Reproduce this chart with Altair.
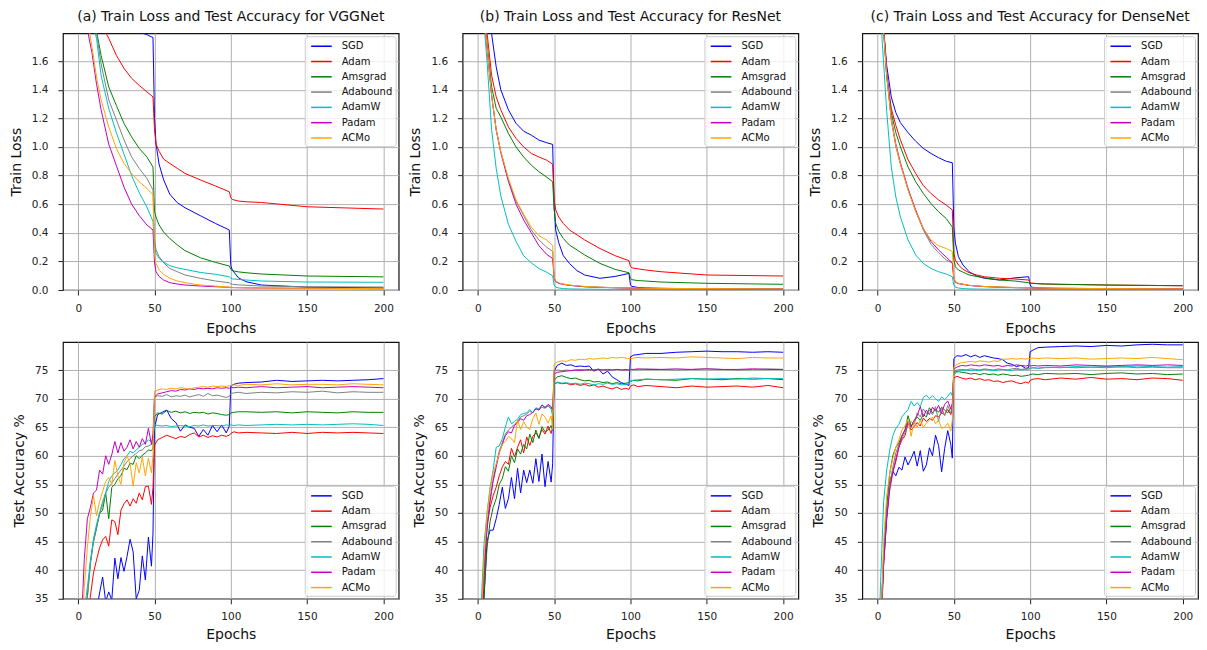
import altair as alt
import pandas as pd

OPTIMIZERS = ["SGD", "Adam", "Amsgrad", "Adabound", "AdamW", "Padam", "ACMo"]
COLORS = ["#0000ff", "#ff0000", "#008000", "#808080", "#00bfbf", "#bf00bf", "#ffa500"]

PANEL_TITLES = [
    "(a) Train Loss and Test Accuracy for VGGNet",
    "(b) Train Loss and Test Accuracy for ResNet",
    "(c) Train Loss and Test Accuracy for DenseNet",
]
X_TICKS = [0, 50, 100, 150, 200]
LOSS_TICKS = [0.0, 0.2, 0.4, 0.6, 0.8, 1.0, 1.2, 1.4, 1.6]
ACC_TICKS = [35, 40, 45, 50, 55, 60, 65, 70, 75]

EP_LOSS = [0, 3, 6, 9, 12, 15, 20, 25, 30, 35, 40, 45, 49, 50, 51, 53, 56, 60, 65, 70,
           80, 90, 99, 100, 101, 105, 110, 120, 150, 200]
EP_ACC = [0, 2, 4, 6, 8, 10, 12, 14, 16, 18, 20, 22, 24, 26, 28, 30, 32, 34, 36, 38,
          40, 42, 44, 46, 48, 49,
          50, 52, 55, 58, 61, 64, 67, 70, 73, 76, 79, 82, 85, 88, 91, 94, 97, 99,
          100, 102, 105, 110, 120, 130, 140, 150, 160, 170, 180, 190, 200]

# ---------------- VGGNet train loss ----------------
VGG_LOSS_SGD = [2.30, 2.22, 2.14, 2.07, 2.01, 1.97, 1.92, 1.88, 1.855, 1.83, 1.805, 1.785, 1.765,
                1.20, 1.02, 0.88, 0.77, 0.67, 0.61, 0.575, 0.52, 0.465, 0.42,
                0.17, 0.14, 0.085, 0.058, 0.035, 0.02, 0.015]
VGG_LOSS_ADAM = [2.60, 2.40, 2.20, 2.05, 1.95, 1.86, 1.76, 1.64, 1.55, 1.48, 1.43, 1.385, 1.35,
                 1.12, 1.02, 0.97, 0.915, 0.885, 0.85, 0.815, 0.77, 0.727, 0.687,
                 0.645, 0.633, 0.622, 0.617, 0.612, 0.582, 0.566]
VGG_LOSS_AMSGRAD = [2.50, 2.30, 2.10, 1.93, 1.81, 1.64, 1.42, 1.29, 1.165, 1.07, 0.99, 0.93, 0.86,
                    0.55, 0.51, 0.455, 0.405, 0.36, 0.315, 0.275, 0.226, 0.193, 0.168,
                    0.145, 0.135, 0.127, 0.121, 0.112, 0.098, 0.092]
VGG_LOSS_ADABOUND = [2.50, 2.30, 2.10, 1.92, 1.80, 1.58, 1.33, 1.19, 1.05, 0.93, 0.85, 0.78, 0.70,
                     0.35, 0.28, 0.233, 0.19, 0.151, 0.128, 0.105, 0.082, 0.063, 0.051,
                     0.043, 0.040, 0.036, 0.033, 0.028, 0.023, 0.021]
VGG_LOSS_ADAMW = [2.50, 2.25, 2.05, 1.88, 1.76, 1.50, 1.27, 1.10, 0.95, 0.80, 0.68, 0.58, 0.48,
                  0.30, 0.256, 0.221, 0.195, 0.17, 0.155, 0.144, 0.123, 0.11, 0.093,
                  0.083, 0.078, 0.074, 0.07, 0.063, 0.056, 0.054]
VGG_LOSS_PADAM = [2.40, 2.10, 1.82, 1.66, 1.44, 1.26, 1.02, 0.87, 0.72, 0.60, 0.52, 0.455, 0.42,
                  0.19, 0.128, 0.095, 0.07, 0.051, 0.042, 0.035, 0.028, 0.023, 0.019,
                  0.018, 0.017, 0.016, 0.015, 0.014, 0.012, 0.009]
VGG_LOSS_ACMO = [2.40, 2.15, 1.90, 1.70, 1.49, 1.33, 1.14, 0.99, 0.885, 0.815, 0.757, 0.71, 0.665,
                 0.26, 0.186, 0.14, 0.11, 0.082, 0.063, 0.051, 0.035, 0.028, 0.02,
                 0.019, 0.018, 0.017, 0.016, 0.014, 0.012, 0.01]

# ---------------- ResNet train loss ----------------
RES_LOSS_SGD = [2.30, 2.15, 1.95, 1.79, 1.56, 1.40, 1.26, 1.165, 1.11, 1.083, 1.048, 1.03, 1.018,
                0.58, 0.42, 0.33, 0.24, 0.186, 0.135, 0.105, 0.082, 0.095, 0.116,
                0.035, 0.025, 0.018, 0.014, 0.012, 0.009, 0.007]
RES_LOSS_ADAM = [2.40, 2.15, 1.80, 1.50, 1.35, 1.26, 1.14, 1.06, 1.0, 0.955, 0.93, 0.908, 0.88,
                 0.63, 0.56, 0.51, 0.465, 0.42, 0.385, 0.35, 0.29, 0.24, 0.205,
                 0.165, 0.155, 0.148, 0.14, 0.128, 0.105, 0.098]
RES_LOSS_AMSGRAD = [2.35, 2.10, 1.72, 1.42, 1.27, 1.21, 1.095, 1.0, 0.93, 0.873, 0.827, 0.79, 0.757,
                    0.56, 0.466, 0.41, 0.36, 0.314, 0.28, 0.245, 0.186, 0.144, 0.121,
                    0.082, 0.072, 0.066, 0.063, 0.056, 0.047, 0.04]
RES_LOSS_ADABOUND = [2.30, 2.05, 1.70, 1.36, 1.12, 0.97, 0.77, 0.62, 0.52, 0.42, 0.35, 0.30, 0.27,
                     0.08, 0.06, 0.047, 0.04, 0.033, 0.028, 0.023, 0.019, 0.016, 0.014,
                     0.013, 0.013, 0.012, 0.012, 0.011, 0.009, 0.007]
RES_LOSS_ADAMW = [2.30, 2.0, 1.60, 1.12, 0.85, 0.66, 0.46, 0.34, 0.24, 0.19, 0.15, 0.125, 0.10,
                  0.035, 0.02, 0.014, 0.01, 0.008, 0.007, 0.006, 0.005, 0.005, 0.004,
                  0.004, 0.004, 0.004, 0.004, 0.004, 0.003, 0.003]
RES_LOSS_PADAM = [2.30, 2.05, 1.70, 1.36, 1.12, 0.96, 0.76, 0.60, 0.49, 0.40, 0.31, 0.25, 0.22,
                  0.08, 0.06, 0.047, 0.04, 0.033, 0.028, 0.023, 0.019, 0.016, 0.014,
                  0.013, 0.013, 0.012, 0.012, 0.011, 0.009, 0.007]
RES_LOSS_ACMO = [2.30, 2.05, 1.70, 1.36, 1.12, 0.97, 0.78, 0.63, 0.53, 0.44, 0.38, 0.35, 0.31,
                 0.085, 0.065, 0.05, 0.042, 0.035, 0.03, 0.025, 0.02, 0.017, 0.015,
                 0.014, 0.014, 0.013, 0.012, 0.011, 0.01, 0.008]

# ---------------- DenseNet train loss ----------------
DEN_LOSS_SGD = [2.30, 1.95, 1.57, 1.35, 1.24, 1.17, 1.10, 1.04, 0.99, 0.955, 0.925, 0.90, 0.89,
                0.44, 0.33, 0.233, 0.175, 0.128, 0.098, 0.082, 0.07, 0.085, 0.093,
                0.035, 0.02, 0.014, 0.012, 0.01, 0.008, 0.007]
DEN_LOSS_ADAM = [2.50, 2.0, 1.51, 1.27, 1.15, 1.05, 0.91, 0.815, 0.73, 0.675, 0.63, 0.594, 0.56,
                 0.256, 0.21, 0.175, 0.145, 0.121, 0.105, 0.093, 0.082, 0.077, 0.07,
                 0.051, 0.048, 0.045, 0.042, 0.04, 0.035, 0.03]
DEN_LOSS_AMSGRAD = [2.50, 2.0, 1.49, 1.24, 1.10, 1.0, 0.86, 0.757, 0.675, 0.605, 0.547, 0.50, 0.44,
                    0.21, 0.163, 0.14, 0.125, 0.105, 0.095, 0.086, 0.07, 0.063, 0.051,
                    0.047, 0.046, 0.044, 0.042, 0.04, 0.035, 0.03]
DEN_LOSS_ADABOUND = [2.40, 1.95, 1.50, 1.19, 1.0, 0.88, 0.70, 0.55, 0.42, 0.32, 0.26, 0.21, 0.19,
                     0.08, 0.055, 0.045, 0.04, 0.032, 0.028, 0.024, 0.02, 0.017, 0.015,
                     0.015, 0.014, 0.014, 0.013, 0.012, 0.01, 0.008]
DEN_LOSS_ADAMW = [2.40, 1.75, 1.25, 0.86, 0.65, 0.51, 0.35, 0.245, 0.186, 0.151, 0.128, 0.112, 0.093,
                  0.035, 0.02, 0.014, 0.01, 0.008, 0.007, 0.006, 0.005, 0.005, 0.004,
                  0.004, 0.004, 0.004, 0.004, 0.004, 0.003, 0.003]
DEN_LOSS_PADAM = [2.40, 1.97, 1.52, 1.20, 1.02, 0.89, 0.71, 0.56, 0.43, 0.34, 0.28, 0.23, 0.19,
                  0.08, 0.055, 0.045, 0.04, 0.032, 0.028, 0.024, 0.02, 0.017, 0.015,
                  0.015, 0.014, 0.014, 0.013, 0.012, 0.01, 0.008]
DEN_LOSS_ACMO = [2.40, 1.95, 1.50, 1.19, 1.01, 0.88, 0.70, 0.55, 0.43, 0.35, 0.31, 0.29, 0.27,
                 0.085, 0.058, 0.047, 0.041, 0.033, 0.029, 0.025, 0.021, 0.018, 0.016,
                 0.015, 0.015, 0.014, 0.013, 0.012, 0.01, 0.008]

# ---------------- VGGNet test accuracy ----------------
VGG_ACC_SGD = [12, 18, 22, 26, 28, 30, 33, 36, 38.8, 34.5, 36.2, 34.8, 42.1, 38.5, 42.2, 39.8, 42.4,
               45.4, 43.2, 35.0, 36.5, 42.5, 38.3, 45.8, 40.7, 46.5,
               64.8, 67.2, 67.6, 68.0, 66.5, 65.8, 64.3, 65.4, 65.0, 64.8, 63.4, 64.6, 63.6, 65.3,
               64.2, 65.4, 64.0, 65.2,
               72.2, 72.5, 72.7, 72.8, 72.9, 73.2, 73.0, 73.1, 73.2, 73.1, 73.2, 73.3, 73.5]
VGG_ACC_ADAM = [20, 25, 29, 32, 35.5, 39.5, 41.8, 43.9, 45.3, 45.9, 44.2, 48.8, 48.5, 46.2, 50.5, 51.6,
                52.3, 51.2, 52.5, 51.7, 53.5, 52.3, 54.6, 54.7, 51.5, 54.5,
                61.8, 62.8, 63.2, 63.6, 63.3, 63.0, 63.4, 63.2, 63.7, 64.0, 63.3, 63.6, 63.2, 63.5,
                63.3, 63.6, 63.4, 63.6,
                63.9, 64.2, 64.0, 64.1, 64.0, 63.9, 64.1, 63.9, 64.1, 64.0, 64.1, 64.0, 63.9]
VGG_ACC_AMSGRAD = [22, 26, 30, 35.5, 41.5, 45, 47.3, 49.9, 50.5, 53.5, 49.0, 54.5, 55.0, 56.0, 56.5,
                   57.8, 57.6, 58.7, 58.5, 60.0, 59.5, 60.1, 60.5, 61.0, 60.9, 61.3,
                   66.8, 67.5, 67.3, 67.9, 67.6, 67.8, 67.5, 67.7, 67.4, 67.6, 67.5, 67.6, 67.3, 67.5,
                   67.4, 67.2, 67.1, 67.2,
                   67.5, 67.6, 67.7, 67.7, 67.6, 67.7, 67.5, 67.7, 67.6, 67.5, 67.7, 67.6, 67.6]
VGG_ACC_ADABOUND = [22, 26, 30, 35, 41, 45, 47.5, 49.8, 51.5, 53.5, 54.5, 55.2, 56.0, 56.8, 57.5,
                    58.2, 59.0, 59.5, 60.0, 60.4, 60.9, 61.0, 61.6, 61.7, 62.0, 62.3,
                    70.2, 70.5, 70.4, 70.7, 70.3, 70.5, 70.4, 70.6, 70.3, 70.5, 70.7, 70.4, 70.9, 70.5,
                    70.6, 70.4, 70.2, 70.4,
                    70.9, 71.0, 71.1, 70.9, 71.1, 71.0, 71.2, 71.1, 71.3, 71.0, 71.2, 71.1, 71.1]
VGG_ACC_ADAMW = [22, 27, 33, 37, 41.5, 45.5, 48, 50, 52, 53.5, 55.5, 56.5, 57.0, 57.5, 58.5, 59.5,
                 60.0, 60.8, 60.5, 61.0, 61.5, 62.0, 62.2, 62.8, 62.5, 63.0,
                 65.5, 65.3, 65.2, 65.3, 65.1, 65.2, 65.3, 65.2, 65.1, 65.3, 65.2, 65.4, 65.2, 65.3,
                 65.3, 65.2, 65.4, 65.3,
                 65.4, 65.3, 65.4, 65.3, 65.4, 65.5, 65.4, 65.5, 65.4, 65.5, 65.6, 65.5, 65.3]
VGG_ACC_PADAM = [20, 30, 42, 49, 51, 53.5, 54, 57.5, 56.8, 60, 58.5, 60.2, 62.5, 60.5, 62.3, 60.8,
                 61.5, 62.8, 61.2, 62.5, 61.5, 63.0, 62.0, 64.8, 62.0, 63.8,
                 70.3, 70.8, 71.0, 71.2, 71.4, 71.3, 71.6, 71.5, 71.7, 71.6, 71.8, 71.7, 71.8, 71.7,
                 71.9, 71.8, 71.9, 71.8,
                 72.0, 71.9, 72.0, 71.9, 72.1, 71.9, 72.0, 72.1, 71.9, 72.0, 72.1, 72.0, 71.9]
VGG_ACC_ACMO = [20, 28, 37, 44, 49.4, 53.0, 49.5, 52, 53.8, 55.5, 56.2, 55.0, 59.2, 56.5, 55.0, 58.8,
                60.0, 58.6, 54.7, 58.8, 57.0, 59.8, 56.5, 59.6, 57.0, 60.2,
                71.3, 71.5, 71.7, 71.6, 71.8, 71.7, 71.9, 71.8, 71.6, 71.9, 72.0, 72.1, 72.0, 72.2,
                72.1, 72.2, 72.1, 72.3,
                72.3, 72.4, 72.3, 72.5, 72.4, 72.6, 72.4, 72.5, 72.5, 72.4, 72.6, 72.5, 72.4]

# ---------------- ResNet test accuracy ----------------
RES_ACC_SGD = [15, 25, 35, 45, 47, 47, 49, 51.5, 54.5, 50.8, 52.5, 56.2, 52.5, 57.8, 53.5, 57.5,
               55.3, 57.5, 55.2, 59.5, 55.5, 60.3, 54.6, 59.0, 55.4, 58.6,
               74.8, 75.8, 76.2, 75.8, 75.9, 75.6, 75.7, 75.6, 75.7, 74.8, 75.2, 74.3, 74.8, 73.8,
               73.3, 72.8, 72.5, 72.3,
               77.3, 77.6, 77.7, 77.9, 77.9, 78.1, 78.2, 78.3, 78.2, 78.2, 78.1, 78.2, 78.1]
RES_ACC_ADAM = [18, 26, 38, 48, 51, 53, 54.5, 56.5, 58.0, 59.0, 58.5, 61.3, 59.8, 61.5, 62.8, 60.5,
                63.3, 61.8, 63.4, 64.0, 63.2, 64.6, 63.8, 65.2, 63.9, 65.0,
                72.5, 72.8, 72.6, 72.7, 72.4, 72.6, 72.3, 72.5, 72.2, 72.4, 72.0, 72.2, 71.9, 71.7,
                72.0, 71.6, 71.8, 71.6,
                72.2, 72.4, 72.1, 72.3, 72.1, 71.9, 72.2, 72.0, 72.1, 72.2, 72.0, 72.3, 71.9]
RES_ACC_AMSGRAD = [18, 25, 35.5, 44, 48.5, 51, 52.5, 55.0, 56.0, 58.1, 57.3, 60.0, 58.8, 61.2, 60.3,
                   62.0, 61.2, 63.8, 62.3, 64.5, 63.0, 65.1, 64.2, 64.5, 65.3, 64.4,
                   73.2, 73.8, 74.0, 73.7, 73.5, 73.6, 73.3, 73.1, 73.2, 72.9, 73.0, 72.8, 72.9, 72.6,
                   72.8, 72.6, 72.7, 72.8,
                   73.0, 73.2, 73.1, 73.4, 73.3, 73.2, 73.5, 73.4, 73.3, 73.5, 73.4, 73.5, 73.3]
RES_ACC_ADABOUND = [20, 31, 41, 48, 52.5, 56, 58.5, 60.8, 62.3, 63.8, 64.5, 65.0, 65.5, 66.0, 66.8,
                    67.0, 67.3, 67.8, 67.5, 68.3, 68.0, 68.5, 68.3, 68.7, 68.2, 68.4,
                    74.8, 75.0, 74.9, 75.0, 74.9, 75.0, 75.1, 75.0, 74.9, 75.0, 75.1, 75.0, 74.9, 75.0,
                    75.1, 75.0, 74.9, 75.0,
                    75.1, 75.0, 75.1, 75.2, 75.1, 75.0, 75.1, 75.2, 75.1, 75.0, 75.1, 75.2, 75.1]
RES_ACC_ADAMW = [20, 33, 44.5, 50, 54.5, 57.5, 61.5, 61.7, 63.0, 65.0, 66.8, 65.6, 66.0, 66.4, 67.2,
                 67.4, 67.5, 68.1, 67.5, 68.4, 68.2, 68.9, 68.5, 68.8, 68.3, 66.9,
                 72.6, 72.9, 72.7, 72.8, 72.6, 72.7, 72.5, 72.7, 72.6, 72.4, 72.6, 72.5, 72.7, 72.5,
                 72.6, 72.4, 72.5, 72.6,
                 73.1, 73.2, 73.3, 73.4, 73.3, 73.4, 73.5, 73.4, 73.5, 73.4, 73.6, 73.5, 73.5]
RES_ACC_PADAM = [20, 30, 40, 47, 52, 55.5, 58, 60.5, 62, 63.5, 64.2, 64.0, 65.3, 65.8, 66.5, 66.2,
                 67.0, 67.2, 67.6, 68.2, 68.0, 68.9, 68.4, 69.0, 68.6, 68.0,
                 74.3, 74.6, 74.7, 74.8, 74.9, 75.0, 74.9, 75.0, 75.1, 75.0, 75.1, 75.0, 75.1, 75.0,
                 75.1, 75.0, 75.1, 75.0,
                 75.1, 75.1, 75.2, 75.1, 75.1, 75.2, 75.1, 75.2, 75.1, 75.1, 75.2, 75.1, 75.1]
RES_ACC_ACMO = [20, 30, 42, 50, 54, 57.0, 58.5, 60.5, 62.0, 62.5, 63.4, 63.0, 62.3, 66.3, 64.6, 66.0,
                65.0, 64.6, 66.5, 67.5, 65.5, 67.3, 66.8, 65.7, 67.0, 64.6,
                76.0, 76.4, 76.6, 76.5, 76.8, 76.7, 76.9, 76.8, 77.0, 76.9, 77.0, 77.1, 77.0, 77.2,
                77.1, 77.2, 77.1, 77.0,
                77.0, 77.1, 77.2, 77.1, 77.2, 77.1, 77.3, 77.2, 77.1, 77.0, 77.2, 77.1, 77.1]

# ---------------- DenseNet test accuracy ----------------
DEN_ACC_SGD = [15, 28, 41, 49, 55, 57.3, 56.5, 58.0, 57.5, 59.8, 58.4, 59.5, 60.8, 58.2, 60.9, 57.3,
               58.4, 61.4, 60.0, 63.6, 61.8, 57.2, 61.3, 64.4, 62.0, 59.6,
               77.0, 77.5, 77.4, 77.7, 77.3, 77.6, 77.2, 77.5, 77.3, 77.1, 77.0, 76.8, 76.2, 76.0,
               75.6, 75.8, 75.3, 75.4,
               78.2, 78.5, 78.9, 79.0, 79.1, 79.2, 79.1, 79.3, 79.2, 79.4, 79.5, 79.4, 79.4]
DEN_ACC_ADAM = [15, 30, 42, 50, 55.5, 57.2, 59.0, 61.5, 62.8, 63.5, 65.7, 64.5, 65.1, 65.8, 65.2, 66.6,
                66.0, 66.5, 66.2, 67.0, 66.8, 67.5, 67.2, 68.1, 67.2, 68.0,
                73.6, 73.9, 73.6, 73.4, 73.6, 73.3, 73.5, 73.2, 73.3, 73.0, 73.1, 72.8, 73.0, 73.1,
                72.8, 72.6, 72.9, 72.7,
                73.2, 73.4, 73.5, 73.3, 73.6, 73.4, 73.7, 73.4, 73.5, 73.3, 73.6, 73.5, 73.2]
DEN_ACC_AMSGRAD = [15, 30, 43, 51, 57.0, 60.0, 61.5, 62.3, 63.5, 64.5, 67.0, 65.2, 66.0, 66.8, 66.2,
                   67.2, 66.8, 68.4, 67.5, 68.2, 67.6, 68.5, 68.0, 67.5, 68.4, 67.6,
                   74.5, 74.8, 74.6, 74.5, 74.3, 74.4, 74.2, 74.4, 74.2, 74.3, 74.1, 74.3, 74.2, 74.0,
                   74.1, 73.9, 74.0, 74.1,
                   74.2, 74.3, 74.2, 74.4, 74.3, 74.4, 74.2, 74.4, 74.5, 74.3, 74.4, 74.2, 74.3]
DEN_ACC_ADABOUND = [15, 30, 42, 50, 55, 58, 60.5, 62.0, 63.0, 64.0, 65.5, 66.0, 65.5, 67.5, 66.8,
                    68.2, 67.4, 68.0, 67.2, 68.6, 66.0, 68.5, 67.0, 68.8, 67.5, 68.2,
                    74.8, 75.0, 75.1, 75.0, 75.2, 75.1, 75.0, 75.2, 75.1, 75.0, 75.2, 75.1, 75.0, 75.2,
                    75.3, 75.1, 75.2, 75.3,
                    75.3, 75.4, 75.3, 75.4, 75.5, 75.4, 75.5, 75.4, 75.6, 75.4, 75.5, 75.4, 75.4]
DEN_ACC_ADAMW = [20, 38, 52, 57.5, 61.0, 63.5, 64.8, 65.5, 66.8, 67.5, 68.1, 69.5, 68.7, 69.3, 68.6,
                 70.2, 70.6, 70.0, 70.5, 70.0, 69.5, 70.3, 69.8, 70.4, 71.1, 70.5,
                 74.2, 74.6, 74.9, 75.0, 74.9, 75.0, 74.9, 75.1, 75.0, 74.9, 75.0, 75.1, 75.0, 74.9,
                 75.1, 75.0, 75.1, 75.0,
                 75.3, 75.4, 75.3, 75.5, 75.4, 75.6, 75.5, 75.6, 75.5, 75.7, 75.6, 75.5, 75.6]
DEN_ACC_PADAM = [15, 29, 41, 49, 54, 57, 59.5, 61.5, 63.5, 64.5, 66.0, 65.0, 66.2, 67.0, 68.6, 66.8,
                 68.0, 67.2, 68.5, 67.8, 68.8, 67.5, 69.0, 69.6, 68.2, 69.2,
                 75.2, 75.5, 75.8, 75.7, 75.9, 75.8, 75.7, 75.9, 75.8, 75.7, 75.8, 75.6, 75.8, 75.7,
                 75.9, 75.8, 75.7, 75.8,
                 75.7, 75.8, 75.7, 75.8, 75.7, 75.9, 75.8, 75.7, 75.8, 75.9, 75.8, 75.9, 75.8]
DEN_ACC_ACMO = [15, 29, 45, 53, 57.0, 59.5, 61.5, 62.8, 64.5, 65.3, 66.3, 63.4, 66.0, 65.0, 66.2, 65.0,
                65.7, 66.2, 66.8, 65.6, 66.2, 64.8, 65.0, 65.7, 64.3, 66.3,
                75.5, 76.0, 76.3, 76.4, 76.5, 76.4, 76.6, 76.5, 76.4, 76.6, 76.5, 76.9, 76.9, 77.0,
                76.9, 77.0, 76.9, 77.0,
                77.0, 77.1, 77.0, 77.1, 77.0, 77.1, 76.9, 77.0, 77.1, 77.0, 77.2, 77.0, 76.8]

FONT = "DejaVu Sans"
PLOT_W, PLOT_H = 336, 257


def long_frame(epochs, series):
    rows = []
    for name, vals in zip(OPTIMIZERS, series):
        assert len(vals) == len(epochs), (name, len(vals), len(epochs))
        for e, v in zip(epochs, vals):
            rows.append({"epoch": e, "value": v, "optimizer": name})
    return pd.DataFrame(rows)


def panel(df, kind, title=None):
    if kind == "loss":
        ydom, yvals, yfmt, ytitle, orient = [0, 1.795], LOSS_TICKS, ".1f", "Train Loss", "top-right"
        xtitle_pad = 8
    else:
        ydom, yvals, yfmt, ytitle, orient = [35, 79.9], ACC_TICKS, "d", "Test Accuracy %", "bottom-right"
        xtitle_pad = 5
    legend = alt.Legend(
        title=None, orient=orient, offset=3,
        symbolType="M-0.6,0H2.833", symbolSize=144, symbolStrokeWidth=1.5,
        labelFont=FONT, labelFontSize=10, labelColor="#111", labelOffset=20,
        padding=3, rowPadding=3.3,
        fillColor="rgba(255,255,255,0.8)", strokeColor="#cccccc", cornerRadius=3,
    )
    chart = alt.Chart(df).mark_line(strokeWidth=1, clip=True).encode(
        x=alt.X("epoch:Q",
                scale=alt.Scale(domain=[-10, 210], nice=False, zero=False),
                axis=alt.Axis(values=X_TICKS, format="d", title="Epochs",
                              tickSize=5, labelPadding=8, titlePadding=xtitle_pad)),
        y=alt.Y("value:Q",
                scale=alt.Scale(domain=ydom, nice=False, zero=False),
                axis=alt.Axis(values=yvals, format=yfmt, title=ytitle,
                              tickSize=5, labelPadding=10, titlePadding=8)),
        color=alt.Color("optimizer:N",
                        scale=alt.Scale(domain=OPTIMIZERS, range=COLORS),
                        legend=legend),
    ).properties(width=PLOT_W, height=PLOT_H)
    if title:
        chart = chart.properties(title=alt.TitleParams(title))
    return chart


loss_sets = [
    [VGG_LOSS_SGD, VGG_LOSS_ADAM, VGG_LOSS_AMSGRAD, VGG_LOSS_ADABOUND, VGG_LOSS_ADAMW, VGG_LOSS_PADAM, VGG_LOSS_ACMO],
    [RES_LOSS_SGD, RES_LOSS_ADAM, RES_LOSS_AMSGRAD, RES_LOSS_ADABOUND, RES_LOSS_ADAMW, RES_LOSS_PADAM, RES_LOSS_ACMO],
    [DEN_LOSS_SGD, DEN_LOSS_ADAM, DEN_LOSS_AMSGRAD, DEN_LOSS_ADABOUND, DEN_LOSS_ADAMW, DEN_LOSS_PADAM, DEN_LOSS_ACMO],
]
acc_sets = [
    [VGG_ACC_SGD, VGG_ACC_ADAM, VGG_ACC_AMSGRAD, VGG_ACC_ADABOUND, VGG_ACC_ADAMW, VGG_ACC_PADAM, VGG_ACC_ACMO],
    [RES_ACC_SGD, RES_ACC_ADAM, RES_ACC_AMSGRAD, RES_ACC_ADABOUND, RES_ACC_ADAMW, RES_ACC_PADAM, RES_ACC_ACMO],
    [DEN_ACC_SGD, DEN_ACC_ADAM, DEN_ACC_AMSGRAD, DEN_ACC_ADABOUND, DEN_ACC_ADAMW, DEN_ACC_PADAM, DEN_ACC_ACMO],
]

charts = []
for t, s in zip(PANEL_TITLES, loss_sets):
    charts.append(panel(long_frame(EP_LOSS, s), "loss", t))
for s in acc_sets:
    charts.append(panel(long_frame(EP_ACC, s), "acc"))

chart = alt.ConcatChart(
    concat=charts, columns=3,
    spacing={"row": 52, "column": 64},
    bounds="flush",
).resolve_legend(color="independent").properties(
    padding={"left": 0, "top": 0, "right": 0, "bottom": 0}
).configure_view(
    stroke="#111", strokeWidth=1.2
).configure_axis(
    grid=True, gridColor="#b0b0b0", gridWidth=1, domain=False,
    tickColor="#222", tickWidth=1,
    labelFont=FONT, labelFontSize=10.5, labelColor="#222",
    titleFont=FONT, titleFontSize=14, titleFontWeight="normal", titleColor="#111",
).configure_title(
    font=FONT, fontSize=14, fontWeight="normal", color="#111", anchor="middle", offset=9.5,
)

chart.save("out.html", embed_options={"renderer": "svg", "actions": False})
